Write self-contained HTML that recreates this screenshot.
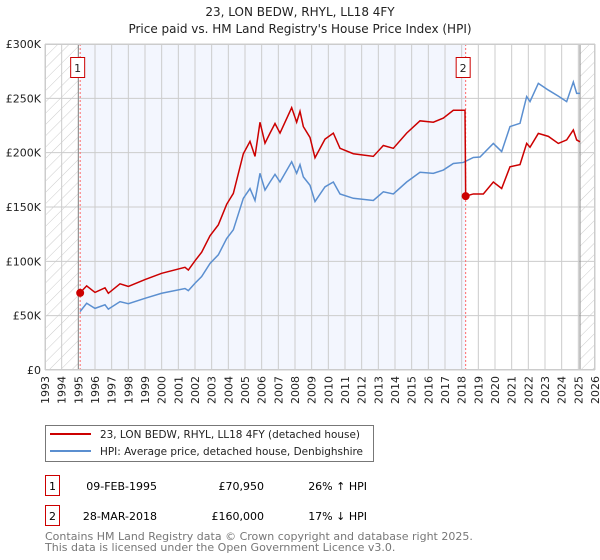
<!DOCTYPE html>
<html><head><meta charset="utf-8"><style>
body{margin:0;background:#fff;font-family:"DejaVu Sans","Liberation Sans",sans-serif;}
#wrap{position:relative;width:600px;height:560px;overflow:hidden;}
svg text{font-family:"DejaVu Sans","Liberation Sans",sans-serif;}
</style></head><body>
<div id="wrap">
<svg id="chart" width="600" height="560" xmlns="http://www.w3.org/2000/svg">
<defs><pattern id="hatch" width="8" height="8" patternUnits="userSpaceOnUse" patternTransform="rotate(45)"><line x1="0" y1="0" x2="0" y2="8" stroke="#ccc" stroke-width="1"/></pattern></defs>
<text x="300" y="16" text-anchor="middle" font-size="12" fill="#222">23, LON BEDW, RHYL, LL18 4FY</text>
<text x="300" y="33" text-anchor="middle" font-size="12" fill="#222">Price paid vs. HM Land Registry's House Price Index (HPI)</text>
<g id="plot"></g>
<rect x="45.5" y="425.5" width="328" height="36" fill="#fff" stroke="#777"/>
<line x1="50" y1="434" x2="91" y2="434" stroke="#cc0000" stroke-width="2"/>
<text x="100" y="438" font-size="10.5" fill="#222" textLength="260" lengthAdjust="spacingAndGlyphs">23, LON BEDW, RHYL, LL18 4FY (detached house)</text>
<line x1="50" y1="451" x2="91" y2="451" stroke="#5b8fd0" stroke-width="2"/>
<text x="100" y="455" font-size="10.5" fill="#222" textLength="263" lengthAdjust="spacingAndGlyphs">HPI: Average price, detached house, Denbighshire</text>
<rect x="45.5" y="475.5" width="14" height="20" fill="#fff" stroke="#cc0000"/>
<text x="52.5" y="490" text-anchor="middle" font-size="11">1</text>
<text x="157" y="490" text-anchor="end" font-size="11">09-FEB-1995</text>
<text x="264" y="490" text-anchor="end" font-size="11">£70,950</text>
<text x="367" y="490" text-anchor="end" font-size="11">26% ↑ HPI</text>
<rect x="45.5" y="505.5" width="14" height="20" fill="#fff" stroke="#cc0000"/>
<text x="52.5" y="520" text-anchor="middle" font-size="11">2</text>
<text x="157" y="520" text-anchor="end" font-size="11">28-MAR-2018</text>
<text x="264" y="520" text-anchor="end" font-size="11">£160,000</text>
<text x="367" y="520" text-anchor="end" font-size="11">17% ↓ HPI</text>
<text x="45" y="540" font-size="11" fill="#777">Contains HM Land Registry data © Crown copyright and database right 2025.</text>
<text x="45" y="551" font-size="11" fill="#777">This data is licensed under the Open Government Licence v3.0.</text>
</svg>
</div>
<script>
const yearTicks=[1993,1994,1995,1996,1997,1998,1999,2000,2001,2002,2003,2004,2005,2006,2007,2008,2009,2010,2011,2012,2013,2014,2015,2016,2017,2018,2019,2020,2021,2022,2023,2024,2025,2026];
const valueTicks=[0,50,100,150,200,250,300];
const valueLabels=["£0","£50K","£100K","£150K","£200K","£250K","£300K"];
const hpiYears=[1995.1,1995.5,1996,1996.6,1996.8,1997.5,1998,1999,2000,2001.4,2001.6,2002,2002.4,2002.9,2003.4,2003.9,2004.3,2004.9,2005.3,2005.6,2005.9,2006.2,2006.5,2006.8,2007.1,2007.8,2008.1,2008.3,2008.5,2008.9,2009.2,2009.8,2010.3,2010.7,2011.5,2012.7,2013.3,2013.9,2014.7,2015.5,2016.3,2016.9,2017.5,2018.1,2018.7,2019.1,2019.9,2020.4,2020.9,2021.5,2021.9,2022.1,2022.6,2023.2,2023.8,2024.3,2024.7,2024.9,2025.1];
const hpiValues=[53.7,61.4,56.7,60,56,62.9,61,66,70.6,75,73,79.8,86,98,106,121,129,158,167,156,181,165.6,173,180,173,191.6,181,189,177.7,170,155,168.6,173,162,158,156,164,162,173,182,181,184,190,191,195.6,196,208.5,201,224,227,251.6,247,263.8,257.6,252,247,265,254.6,254.6];
const propYears=[1995.1,1995.5,1996,1996.6,1996.8,1997.5,1998,1999,2000,2001.4,2001.6,2002,2002.4,2002.9,2003.4,2003.9,2004.3,2004.9,2005.3,2005.6,2005.9,2006.2,2006.5,2006.8,2007.1,2007.8,2008.1,2008.3,2008.5,2008.9,2009.2,2009.8,2010.3,2010.7,2011.5,2012.7,2013.3,2013.9,2014.7,2015.5,2016.3,2016.9,2017.5,2018.2,2018.24,2018.7,2019.3,2019.9,2020.4,2020.9,2021.5,2021.9,2022.1,2022.6,2023.2,2023.8,2024.3,2024.7,2024.9,2025.1];
const propValues=[70.95,77.4,71.4,75.6,70.6,79.3,76.9,83.2,89,94.5,92,100.5,108.4,123.5,133.6,152.5,162.5,199,210.4,196.6,228,208.7,218,226.8,218,241.4,228,238,224,214,195.3,212.4,218,204,199,196.6,206.6,204,218,229.3,228,231.8,239,239,160,162,162,173,167,187,189,208.5,205,217.7,215,208.5,211.7,220.9,211.7,210];
const saleYears=[1995.11,2018.24];
const saleValues=[70.95,160];
const saleLabels=["1","2"];

const L=45,R=595,T=44,B=370,X0=1993,X1=2026,YMAX=300;
const xs=v=>L+(v-X0)/(X1-X0)*(R-L);
const ys=v=>B-v/YMAX*(B-T);
const NS="http://www.w3.org/2000/svg";
const g=document.getElementById('plot');
function mk(tag,attrs){const e=document.createElementNS(NS,tag);for(const k in attrs)e.setAttribute(k,attrs[k]);g.appendChild(e);return e;}
let e;
e=mk('rect',{x:xs(saleYears[0]),y:T,width:xs(saleYears[1])-xs(saleYears[0]),height:B-T,fill:'#f3f6fe'});


e=mk('rect',{x:L,y:T,width:xs(1995)-L,height:B-T,fill:'url(#hatch)'});


e=mk('rect',{x:xs(2025.1),y:T,width:R-xs(2025.1),height:B-T,fill:'url(#hatch)'});


yearTicks.forEach(y=>{
  e=mk('line',{x1:xs(y),x2:xs(y),y1:T,y2:B,stroke:'#ccc','stroke-width':1});
  
  
  e=mk('text',{x:0,y:0,'font-size':11,fill:'#222','text-anchor':'end',transform:`translate(${xs(y)+4},${B+6}) rotate(-90)`});
  e.textContent=y;
  
  
});
valueTicks.forEach((v,i)=>{
  e=mk('line',{x1:L,x2:R,y1:ys(v),y2:ys(v),stroke:'#ccc','stroke-width':1});
  
  
  e=mk('text',{x:L-4,y:ys(v)+4,'font-size':11,fill:'#222','text-anchor':'end'});
  e.textContent=valueLabels[i];
  
  
});
e=mk('line',{x1:xs(1995),x2:xs(1995),y1:T,y2:B,stroke:'#888','stroke-width':1});


e=mk('line',{x1:xs(2025.1),x2:xs(2025.1),y1:T,y2:B,stroke:'#888','stroke-width':1});


saleYears.forEach(y=>{
  e=mk('line',{x1:xs(y),x2:xs(y),y1:T,y2:B,stroke:'#f66','stroke-width':1,'stroke-dasharray':'2,2'});
  
  
});
e=mk('polyline',{points:hpiYears.map((y,i)=>xs(y)+','+ys(hpiValues[i])).join(' '),fill:'none',stroke:'#5b8fd0','stroke-width':1.5});


e=mk('polyline',{points:propYears.map((y,i)=>xs(y)+','+ys(propValues[i])).join(' '),fill:'none',stroke:'#cc0000','stroke-width':1.5});


saleYears.forEach((y,i)=>{
  e=mk('circle',{cx:xs(y),cy:ys(saleValues[i]),r:4,fill:'#cc0000'});
  
  
  e=mk('rect',{x:xs(y)-9.5,y:57.5,width:14,height:20,fill:'#fff',stroke:'#cc0000'});
  
  
  e=mk('text',{x:xs(y)-2.5,y:72,'font-size':11,fill:'#222','text-anchor':'middle'});
  e.textContent=saleLabels[i];
  
  
});
e=mk('rect',{x:L+0.5,y:T+0.5,width:R-L-1,height:B-T-1,fill:'none',stroke:'#ccc'});


</script>
</body></html>
